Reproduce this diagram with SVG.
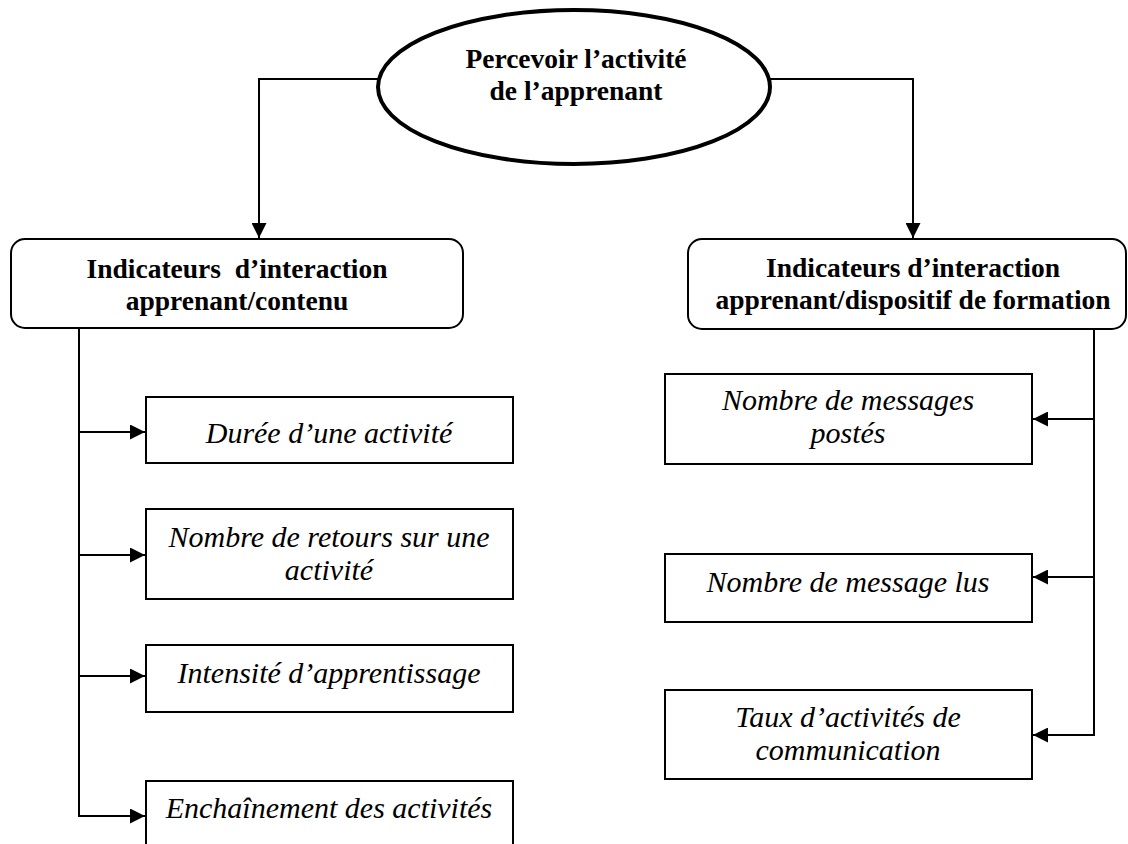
<svg xmlns="http://www.w3.org/2000/svg" width="1128" height="844" viewBox="0 0 1128 844">
  <style>
    .bg { fill: #ffffff; }
    .box { fill: #ffffff; stroke: #000000; stroke-width: 2; }
    .root { fill: #ffffff; stroke: #000000; stroke-width: 4; }
    .wire { fill: none; stroke: #000000; stroke-width: 2; }
    .t { font-family: "Liberation Serif", "DejaVu Serif", serif; fill: #000000; text-anchor: middle; }
    .b { font-weight: bold; font-size: 27.5px; }
    .i { font-style: italic; font-size: 30px; }
  </style>
  <defs>
    <marker id="arrow" viewBox="0 0 15 15" refX="15" refY="7.5" markerWidth="15" markerHeight="15" markerUnits="userSpaceOnUse" orient="auto">
      <path d="M0,0 L15,7.5 L0,15 z" fill="#000000"/>
    </marker>
  </defs>

  <rect class="bg" x="0" y="0" width="1128" height="844"/>

  <!-- connectors -->
  <g id="connectors">
    <path class="wire" d="M378,79 H259 V238" marker-end="url(#arrow)"/>
    <path class="wire" d="M770,79 H913 V238" marker-end="url(#arrow)"/>
    <path class="wire" d="M79,329 V816 H145" marker-end="url(#arrow)"/>
    <path class="wire" d="M79,432 H145" marker-end="url(#arrow)"/>
    <path class="wire" d="M79,555 H145" marker-end="url(#arrow)"/>
    <path class="wire" d="M79,676 H145" marker-end="url(#arrow)"/>
    <path class="wire" d="M1094,330 V735 H1033" marker-end="url(#arrow)"/>
    <path class="wire" d="M1094,419 H1033" marker-end="url(#arrow)"/>
    <path class="wire" d="M1094,577 H1033" marker-end="url(#arrow)"/>
  </g>

  <!-- root -->
  <g id="node-root">
    <ellipse class="root" cx="574" cy="87" rx="196" ry="77"/>
    <text class="t b" x="576" y="68">Percevoir l’activité</text>
    <text class="t b" x="576" y="100">de l’apprenant</text>
  </g>

  <!-- category: learner / content -->
  <g id="node-contenu">
    <rect class="box" x="11" y="239" width="452" height="89" rx="14" ry="14"/>
    <text class="t b" x="237" y="278" xml:space="preserve">Indicateurs  d’interaction</text>
    <text class="t b" x="237" y="310">apprenant/contenu</text>
  </g>

  <!-- category: learner / training setup -->
  <g id="node-dispositif">
    <rect class="box" x="688" y="239" width="438" height="90" rx="14" ry="14"/>
    <text class="t b" x="913" y="277">Indicateurs d’interaction</text>
    <text class="t b" x="913" y="309">apprenant/dispositif de formation</text>
  </g>

  <!-- left indicators -->
  <g id="node-duree">
    <rect class="box" x="146" y="397" width="367" height="66"/>
    <text class="t i" x="329" y="443">Durée d’une activité</text>
  </g>
  <g id="node-retours">
    <rect class="box" x="146" y="509" width="367" height="90"/>
    <text class="t i" x="329" y="547">Nombre de retours sur une</text>
    <text class="t i" x="329" y="580">activité</text>
  </g>
  <g id="node-intensite">
    <rect class="box" x="146" y="645" width="367" height="67"/>
    <text class="t i" x="329" y="683">Intensité d’apprentissage</text>
  </g>
  <g id="node-enchainement">
    <rect class="box" x="146" y="781" width="367" height="80"/>
    <text class="t i" x="329" y="818">Enchaînement des activités</text>
  </g>

  <!-- right indicators -->
  <g id="node-postes">
    <rect class="box" x="665" y="374" width="367" height="90"/>
    <text class="t i" x="848" y="410">Nombre de messages</text>
    <text class="t i" x="848" y="443">postés</text>
  </g>
  <g id="node-lus">
    <rect class="box" x="665" y="554" width="367" height="68"/>
    <text class="t i" x="848" y="592">Nombre de message lus</text>
  </g>
  <g id="node-communication">
    <rect class="box" x="665" y="690" width="367" height="89"/>
    <text class="t i" x="848" y="727">Taux d’activités de</text>
    <text class="t i" x="848" y="760">communication</text>
  </g>
</svg>
